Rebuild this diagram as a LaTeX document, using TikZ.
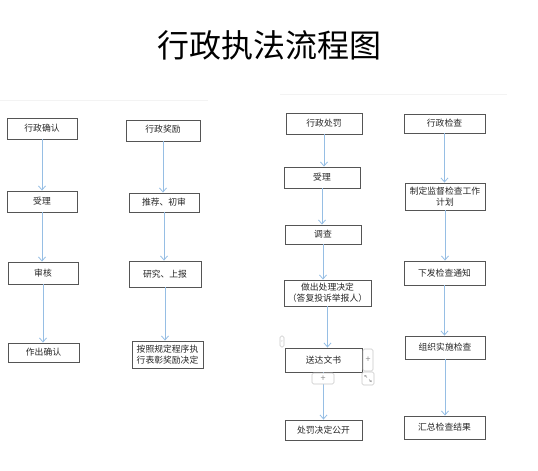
\documentclass[tikz,border=0pt]{standalone}
\usepackage{fontspec}
\setmainfont{Noto Sans CJK SC}
\usetikzlibrary{arrows.meta}
\definecolor{arrowblue}{RGB}{150,190,228}
\definecolor{boxline}{RGB}{85,85,85}
\definecolor{faint}{RGB}{243,243,243}
\definecolor{uigray}{RGB}{200,200,200}
\tikzset{
  box/.style={draw=boxline, line width=0.9pt, fill=white, inner sep=1pt,
    font=\fontsize{8.8}{11}\selectfont, text=black!85, align=center},
  flow/.style={draw=arrowblue, line width=0.9pt,
    -{Straight Barb[length=4pt,width=7pt,line width=0.8pt]}},
  uibtn/.style={draw=uigray, line width=0.6pt, rounded corners=1.5pt, fill=white,
    inner sep=0pt, font=\fontsize{9}{9}\selectfont, text=black!45},
  faintline/.style={draw=faint, line width=0.8pt}
}
\begin{document}
\begin{tikzpicture}[x=1pt,y=-1pt]
\useasboundingbox (0,0) rectangle (538,471);
% title
\node[font=\fontsize{32}{34}\selectfont] (title) at (269,45) {行政执法流程图};
% faint separators
\coordinate (f1a) at (0,100); \coordinate (f1b) at (208,100);
\coordinate (f2a) at (280,94); \coordinate (f2b) at (507,94);
\path[faintline] (f1a) -- (f1b);
\path[faintline] (f2a) -- (f2b);
% column 1
\node[box, minimum width=70pt, minimum height=21pt] (c1a) at (42,128.5) {行政确认};
\node[box, minimum width=70pt, minimum height=21pt] (c1b) at (42,201.5) {受理};
\node[box, minimum width=70pt, minimum height=22pt] (c1c) at (43,273) {审核};
\node[box, minimum width=71pt, minimum height=19pt] (c1d) at (43.5,352.5) {作出确认};
% column 2
\node[box, minimum width=74pt, minimum height=21pt] (c2a) at (163,130.5) {\raisebox{3pt}{行政奖励}};
\node[box, minimum width=70pt, minimum height=19pt] (c2b) at (164,202.5) {\raisebox{2pt}{推荐、初审}};
\node[box, minimum width=72pt, minimum height=26pt] (c2c) at (165,274) {\raisebox{-6pt}{研究、上报}};
\node[box, minimum width=71pt, minimum height=27pt] (c2d) at (167.5,354.5) {按照规定程序执\\行表彰奖励决定};
% column 3
\node[box, minimum width=76pt, minimum height=21pt] (c3a) at (324,123.5) {行政处罚};
\node[box, minimum width=76pt, minimum height=21pt] (c3b) at (322,177.5) {\raisebox{2pt}{受理}};
\node[box, minimum width=76pt, minimum height=19pt] (c3c) at (323,234.5) {调查};
\node[box, minimum width=87pt, minimum height=26pt] (c3d) at (327.5,293) {做出处理决定\\（答复投诉举报人）};
\node[box, minimum width=77pt, minimum height=24pt] (c3e) at (323.5,360) {送达文书};
\node[box, minimum width=77pt, minimum height=20pt] (c3f) at (323.5,430) {处罚决定公开};
% column 4
\node[box, minimum width=81pt, minimum height=19pt] (c4a) at (444.5,123.5) {\raisebox{1.5pt}{行政检查}};
\node[box, minimum width=80pt, minimum height=27pt] (c4b) at (445,196.5) {制定监督检查工作\\计划};
\node[box, minimum width=81pt, minimum height=24pt] (c4c) at (444.5,273) {下发检查通知};
\node[box, minimum width=80pt, minimum height=23pt] (c4d) at (445,347.5) {组织实施检查};
\node[box, minimum width=81pt, minimum height=23pt] (c4e) at (444.5,427.5) {汇总检查结果};
% arrows
\foreach \a/\b in {c1a/c1b,c1b/c1c,c1c/c1d,c2a/c2b,c2b/c2c,c2c/c2d,c3a/c3b,c3b/c3c,c3c/c3d,c3d/c3e,c3e/c3f,c4a/c4b,c4b/c4c,c4c/c4d,c4d/c4e}{
  \draw[flow] (\a.south) -- (\a.south |- \b.north);
}
% editor handles (drawn over the arrows)
\node[uibtn, minimum width=10pt, minimum height=22pt] (btnr) at (368,360) {+};
\node[uibtn, minimum width=22pt, minimum height=11pt] (btnb) at (323,378.5) {+};
\node[uibtn, minimum width=12pt, minimum height=13pt] (btnz) at (368,378.5) {};
\draw[black!45, line width=0.4pt, -{Straight Barb[length=1.2pt,width=2pt]}] ([shift={(-1,-1)}]btnz.center) -- ([shift={(-3.5,-3.5)}]btnz.center);
\draw[black!45, line width=0.4pt, -{Straight Barb[length=1.2pt,width=2pt]}] ([shift={(1,1)}]btnz.center) -- ([shift={(3.5,3.5)}]btnz.center);
\node[uibtn, minimum width=4pt, minimum height=11pt, font=\fontsize{4}{4}\selectfont] (btnl) at (282,341.5) {›};
\end{tikzpicture}
\end{document}
